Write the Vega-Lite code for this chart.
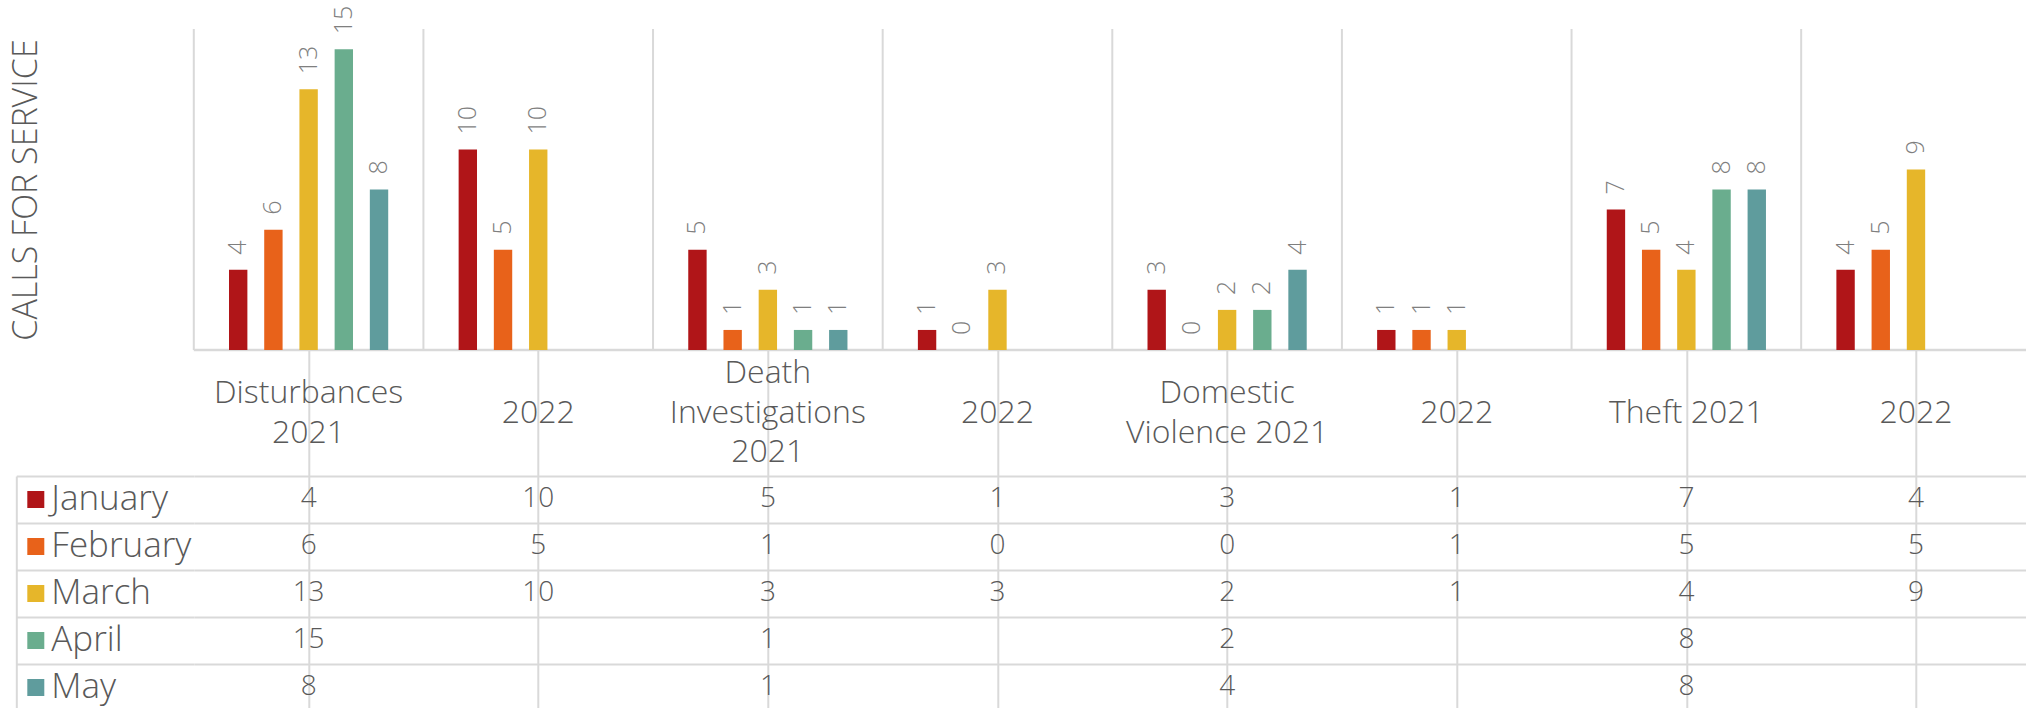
{
  "$schema": "https://vega.github.io/schema/vega-lite/v6.json",
  "autosize": {"type": "pad"},
  "padding": {"left": 8.8, "top": 0, "right": 0, "bottom": 0},
  "background": "white",
  "bounds": "flush",
  "spacing": 0,
  "config": {"view": {"stroke": null}, "font": "Open Sans"},
  "datasets": {
    "calls": [
      {"cat": "Disturbances 2021", "month": "January", "calls": 4},
      {"cat": "Disturbances 2021", "month": "February", "calls": 6},
      {"cat": "Disturbances 2021", "month": "March", "calls": 13},
      {"cat": "Disturbances 2021", "month": "April", "calls": 15},
      {"cat": "Disturbances 2021", "month": "May", "calls": 8},
      {"cat": "Disturbances 2022", "month": "January", "calls": 10},
      {"cat": "Disturbances 2022", "month": "February", "calls": 5},
      {"cat": "Disturbances 2022", "month": "March", "calls": 10},
      {"cat": "Death Investigations 2021", "month": "January", "calls": 5},
      {"cat": "Death Investigations 2021", "month": "February", "calls": 1},
      {"cat": "Death Investigations 2021", "month": "March", "calls": 3},
      {"cat": "Death Investigations 2021", "month": "April", "calls": 1},
      {"cat": "Death Investigations 2021", "month": "May", "calls": 1},
      {"cat": "Death Investigations 2022", "month": "January", "calls": 1},
      {"cat": "Death Investigations 2022", "month": "February", "calls": 0},
      {"cat": "Death Investigations 2022", "month": "March", "calls": 3},
      {"cat": "Domestic Violence 2021", "month": "January", "calls": 3},
      {"cat": "Domestic Violence 2021", "month": "February", "calls": 0},
      {"cat": "Domestic Violence 2021", "month": "March", "calls": 2},
      {"cat": "Domestic Violence 2021", "month": "April", "calls": 2},
      {"cat": "Domestic Violence 2021", "month": "May", "calls": 4},
      {"cat": "Domestic Violence 2022", "month": "January", "calls": 1},
      {"cat": "Domestic Violence 2022", "month": "February", "calls": 1},
      {"cat": "Domestic Violence 2022", "month": "March", "calls": 1},
      {"cat": "Theft 2021", "month": "January", "calls": 7},
      {"cat": "Theft 2021", "month": "February", "calls": 5},
      {"cat": "Theft 2021", "month": "March", "calls": 4},
      {"cat": "Theft 2021", "month": "April", "calls": 8},
      {"cat": "Theft 2021", "month": "May", "calls": 8},
      {"cat": "Theft 2022", "month": "January", "calls": 4},
      {"cat": "Theft 2022", "month": "February", "calls": 5},
      {"cat": "Theft 2022", "month": "March", "calls": 9}
    ],
    "cats": [
      {"cat": "Disturbances 2021", "label": "Disturbances\n2021"},
      {"cat": "Disturbances 2022", "label": "2022"},
      {"cat": "Death Investigations 2021", "label": "Death\nInvestigations\n2021"},
      {"cat": "Death Investigations 2022", "label": "2022"},
      {"cat": "Domestic Violence 2021", "label": "Domestic\nViolence 2021"},
      {"cat": "Domestic Violence 2022", "label": "2022"},
      {"cat": "Theft 2021", "label": "Theft 2021"},
      {"cat": "Theft 2022", "label": "2022"}
    ],
    "months": [
      {"month": "January"}, {"month": "February"}, {"month": "March"}, {"month": "April"}, {"month": "May"}
    ],
    "base": [{"level": 0}]
  },
  "vconcat": [
    {
      "width": 1837,
      "height": 350,
      "layer": [
        {
          "data": {"name": "cats"},
          "mark": {"type": "rule", "color": "#d9d9d9", "strokeWidth": 2},
          "encoding": {
            "x": {"field": "cat", "type": "nominal", "bandPosition": 0,
                  "scale": {"domain": ["Disturbances 2021", "Disturbances 2022", "Death Investigations 2021", "Death Investigations 2022", "Domestic Violence 2021", "Domestic Violence 2022", "Theft 2021", "Theft 2022"], "paddingInner": 0, "paddingOuter": 0},
                  "axis": null},
            "y": {"datum": 0, "type": "quantitative"},
            "y2": {"datum": 16}
          }
        },
        {
          "data": {"name": "base"},
          "mark": {"type": "rule", "color": "#d9d9d9", "strokeWidth": 2.5},
          "encoding": {"y": {"field": "level", "type": "quantitative"}}
        },
        {
          "data": {"name": "calls"},
          "mark": {"type": "bar"},
          "encoding": {
            "x": {"field": "cat", "type": "nominal", "axis": null,
                  "scale": {"domain": ["Disturbances 2021", "Disturbances 2022", "Death Investigations 2021", "Death Investigations 2022", "Domestic Violence 2021", "Domestic Violence 2022", "Theft 2021", "Theft 2022"], "paddingInner": 0, "paddingOuter": 0}},
            "xOffset": {"field": "month", "type": "nominal",
                        "scale": {"domain": ["January", "February", "March", "April", "May"], "paddingInner": 0.478, "paddingOuter": 1.164}},
            "y": {"field": "calls", "type": "quantitative",
                  "scale": {"domain": [0, 17.45], "nice": false, "zero": true},
                  "axis": {"title": "CALLS FOR SERVICE", "labels": false, "ticks": false, "domain": false, "grid": false,
                           "minExtent": 0, "maxExtent": 0, "titlePadding": 150.2, "titleY": 189.5,
                           "titleFont": "Open Sans", "titleFontSize": 34, "titleFontWeight": 300, "titleColor": "#595959"}},
            "color": {"field": "month", "type": "nominal", "legend": null,
                      "scale": {"domain": ["January", "February", "March", "April", "May"],
                                "range": ["#B01518", "#E8621A", "#E6B62A", "#6AAD8E", "#5F9C9D"]}}
          }
        },
        {
          "data": {"name": "calls"},
          "mark": {"type": "text", "angle": 270, "align": "left", "baseline": "middle", "dx": 15,
                   "font": "Open Sans", "fontSize": 25, "fontWeight": 300, "color": "#7f7f7f"},
          "encoding": {
            "x": {"field": "cat", "type": "nominal", "axis": null},
            "xOffset": {"field": "month", "type": "nominal"},
            "y": {"field": "calls", "type": "quantitative"},
            "text": {"field": "calls", "type": "quantitative"}
          }
        }
      ]
    },
    {
      "width": 1837,
      "height": 126,
      "data": {"name": "cats"},
      "encoding": {
        "x": {"field": "cat", "type": "nominal",
              "scale": {"domain": ["Disturbances 2021", "Disturbances 2022", "Death Investigations 2021", "Death Investigations 2022", "Domestic Violence 2021", "Domestic Violence 2022", "Theft 2021", "Theft 2022"], "paddingInner": 0, "paddingOuter": 0},
              "axis": {"title": null, "labels": false, "ticks": false, "domain": false, "grid": true, "bandPosition": 0,
                       "gridColor": "#d9d9d9", "gridWidth": 2, "gridOpacity": 1}},
        "text": {"field": "label", "type": "nominal"}
      },
      "layer": [
        {
          "transform": [{"filter": "length(split(datum.label, '\\n')) == 1"}],
          "mark": {"type": "text", "lineBreak": "\n", "lineHeight": 39.5, "align": "center", "baseline": "middle",
                   "font": "Open Sans", "fontSize": 32, "fontWeight": 300, "color": "#595959"}
        },
        {
          "transform": [{"filter": "length(split(datum.label, '\\n')) == 2"}],
          "mark": {"type": "text", "lineBreak": "\n", "lineHeight": 39.5, "align": "center", "baseline": "middle", "dy": -19.75,
                   "font": "Open Sans", "fontSize": 32, "fontWeight": 300, "color": "#595959"}
        },
        {
          "transform": [{"filter": "length(split(datum.label, '\\n')) == 3"}],
          "mark": {"type": "text", "lineBreak": "\n", "lineHeight": 39.5, "align": "center", "baseline": "middle", "dy": -39.5,
                   "font": "Open Sans", "fontSize": 32, "fontWeight": 300, "color": "#595959"}
        }
      ]
    },
    {
      "width": 1837,
      "height": 235,
      "resolve": {"axis": {"y": "independent"}},
      "layer": [
        {
          "data": {"name": "calls"},
          "mark": {"type": "text", "align": "center", "baseline": "middle",
                   "font": "Open Sans", "fontSize": 28, "fontWeight": 300, "color": "#595959"},
          "encoding": {
            "x": {"field": "cat", "type": "nominal",
                  "scale": {"domain": ["Disturbances 2021", "Disturbances 2022", "Death Investigations 2021", "Death Investigations 2022", "Domestic Violence 2021", "Domestic Violence 2022", "Theft 2021", "Theft 2022"], "paddingInner": 0, "paddingOuter": 0},
                  "axis": {"title": null, "labels": false, "ticks": false, "domain": false, "grid": true, "bandPosition": 0,
                           "gridColor": "#d9d9d9", "gridWidth": 2, "gridOpacity": 1}},
            "y": {"field": "month", "type": "nominal",
                  "scale": {"domain": ["January", "February", "March", "April", "May"], "paddingInner": 0, "paddingOuter": 0},
                  "axis": {"orient": "left", "title": null, "labels": false, "offset": 177.5,
                           "domain": true, "domainColor": "#d9d9d9", "domainWidth": 2,
                           "ticks": true, "tickBand": "extent", "tickSize": -177.5, "tickColor": "#d9d9d9", "tickWidth": 2,
                           "grid": true, "gridColor": "#d9d9d9", "gridWidth": 2, "gridOpacity": 1}},
            "text": {"field": "calls", "type": "quantitative"}
          }
        },
        {
          "data": {"name": "months"},
          "mark": {"type": "point", "opacity": 0},
          "encoding": {
            "y": {"field": "month", "type": "nominal",
                  "axis": {"orient": "left", "title": null, "offset": 150, "domain": false, "grid": false,
                           "ticks": true, "tickSize": 17, "tickWidth": 17, "tickCap": "butt",
                           "tickColor": {"condition": [
                             {"test": "datum.value === 'January'", "value": "#B01518"},
                             {"test": "datum.value === 'February'", "value": "#E8621A"},
                             {"test": "datum.value === 'March'", "value": "#E6B62A"},
                             {"test": "datum.value === 'April'", "value": "#6AAD8E"}], "value": "#5F9C9D"},
                           "labels": true, "labelAlign": "left", "labelBaseline": "middle", "labelPadding": -24,
                           "labelFont": "Open Sans", "labelFontSize": 35, "labelFontWeight": 300, "labelColor": "#595959",
                           "labelLimit": 400, "labelOverlap": false, "labelFlush": false, "labelBound": false}}
          }
        }
      ]
    }
  ]
}
